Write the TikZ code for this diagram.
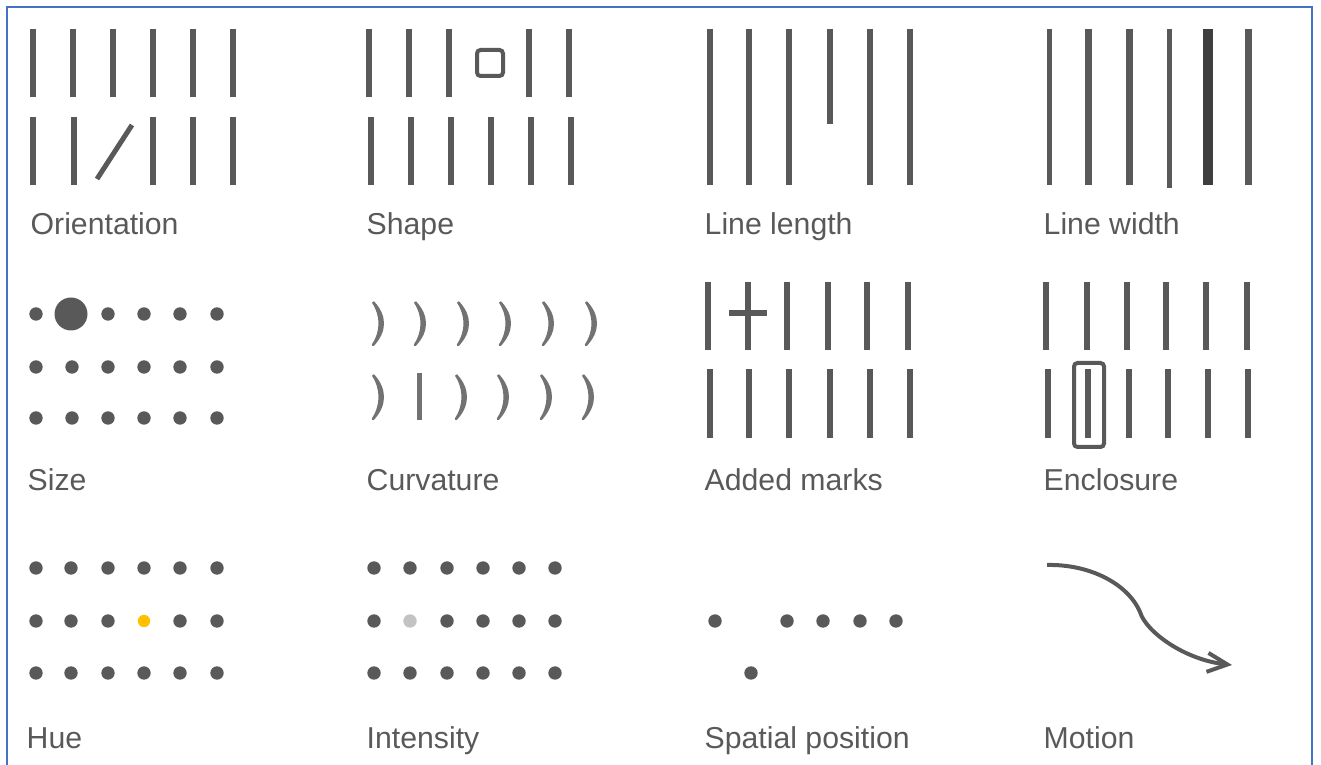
\documentclass[tikz,border=0pt]{standalone}
\usepackage{fontspec}
\setmainfont{Liberation Sans}
\usepackage{tikz}
\usetikzlibrary{arrows.meta}
\definecolor{vargray}{HTML}{595959}
\definecolor{vardark}{HTML}{3F3F3F}
\definecolor{varlight}{HTML}{C3C3C3}
\definecolor{varyellow}{HTML}{FFC000}
\definecolor{varblue}{HTML}{4472C4}

\begin{document}
\begin{tikzpicture}[x=0.1mm,y=-0.1mm,
 bar/.style={draw=vargray,line width=0.6mm},
 dot/.style={fill=vargray},
 crescent/.style={fill=vargray!85,draw=vargray!85,line width=0.25mm,line join=round},
 box/.style={draw=vargray,line width=0.4mm,rounded corners=0.35mm},
 lbl/.style={anchor=base west,inner sep=0pt,text=vargray,font=\fontsize{8.6}{10}\selectfont},
 arr/.style={draw=vargray,line width=0.4mm,-{Straight Barb[length=2mm,width=1.9mm]}}
]
\useasboundingbox (0,0) rectangle (1321,765);
\draw[varblue,line width=0.2mm] (7,765) -- (7,7) -- (1312,7) -- (1312,765);

\foreach \x in {33,73,113,153,193,233} \draw[bar] (\x,29) -- (\x,97);
\foreach \x in {33,74,153,193,233} \draw[bar] (\x,117) -- (\x,185);
\draw[bar,line width=0.5mm] (97,179) -- (132,125);
\node[lbl] (orient) at (30,235) {Orientation};

\foreach \x in {369,409,449,529,569} \draw[bar] (\x,29) -- (\x,97);
\draw[box] (477,50) rectangle (503,76);
\foreach \x in {371,411,451,491,531,571} \draw[bar] (\x,117) -- (\x,185);
\node[lbl] (shape) at (366,235) {Shape};

\foreach \x in {710,749,789,870,910} \draw[bar] (\x,29) -- (\x,185);
\draw[bar] (830,29) -- (830,124);
\node[lbl] (length) at (704,235) {Line length};

\foreach \x/\w in {1049/0.5,1088/0.7,1129/0.7,1248/0.7} \draw[bar,line width=\w mm] (\x,29) -- (\x,185);
\draw[bar,line width=0.5mm] (1169,29) -- (1169,188);
\draw[bar,draw=vardark,line width=1mm] (1208,29) -- (1208,185);
\node[lbl] (width) at (1043,235) {Line width};

\foreach \x in {36,108,144,180,217} \fill[dot] (\x,314) circle[radius=0.67mm];
\fill[dot] (71,314) circle[radius=1.65mm];
\foreach \y in {367,418} \foreach \x in {36,72,108,144,180,217} \fill[dot] (\x,\y) circle[radius=0.67mm];
\node[lbl] (size) at (27,491) {Size};

\foreach \x in {373,415,458,500,543,586}
  \filldraw[crescent] (\x,302) .. controls (\x+13,316) and (\x+13,331) .. (\x,345) .. controls (\x+9,331) and (\x+9,316) .. (\x,302);
\foreach \x in {373,456,498,541,583}
  \filldraw[crescent] (\x,375) .. controls (\x+13,389) and (\x+13,405) .. (\x,419) .. controls (\x+9,405) and (\x+9,389) .. (\x,375);
\draw[bar,draw=vargray!85,line width=0.5mm] (419,373) -- (419,420);
\node[lbl] (curv) at (366,491) {Curvature};

\foreach \x in {708,748,787,828,867,908} \draw[bar] (\x,282) -- (\x,350);
\draw[bar] (729,313) -- (767,313);
\foreach \x in {710,749,789,830,870,910} \draw[bar] (\x,369) -- (\x,438);
\node[lbl] (marks) at (704,491) {Added marks};

\foreach \x in {1046,1087,1127,1166,1206,1247} \draw[bar] (\x,282) -- (\x,350);
\foreach \x in {1048,1088,1129,1168,1208,1248} \draw[bar] (\x,369) -- (\x,438);
\draw[box] (1074,363) rectangle (1104,447);
\node[lbl] (encl) at (1043,491) {Enclosure};

\foreach \y in {568,621,673} \foreach \x in {36,71,108,144,180,217} {
  \ifnum\x=144 \ifnum\y=621 \else \fill[dot] (\x,\y) circle[radius=0.67mm]; \fi
  \else \fill[dot] (\x,\y) circle[radius=0.67mm]; \fi}
\fill[varyellow] (144,621) circle[radius=0.62mm];
\node[lbl] (hue) at (26,748) {Hue};

\foreach \y in {568,621,673} \foreach \x in {374,410,447,483,519,555} {
  \ifnum\x=410 \ifnum\y=621 \else \fill[dot] (\x,\y) circle[radius=0.67mm]; \fi
  \else \fill[dot] (\x,\y) circle[radius=0.67mm]; \fi}
\fill[varlight] (410,621) circle[radius=0.67mm];
\node[lbl] (inten) at (366,748) {Intensity};

\foreach \x in {715,787,823,860,896} \fill[dot] (\x,621) circle[radius=0.67mm];
\fill[dot] (751,673) circle[radius=0.67mm];
\node[lbl] (spatial) at (704,748) {Spatial position};

\coordinate (mstart) at (1047,565);
\coordinate (mend) at (1232,665);
\draw[arr] (mstart) .. controls (1090,564) and (1128,584) .. (1140,612) .. controls (1146,632) and (1185,660) .. (mend);
\node[lbl] (motion) at (1043,748) {Motion};
\end{tikzpicture}
\end{document}
